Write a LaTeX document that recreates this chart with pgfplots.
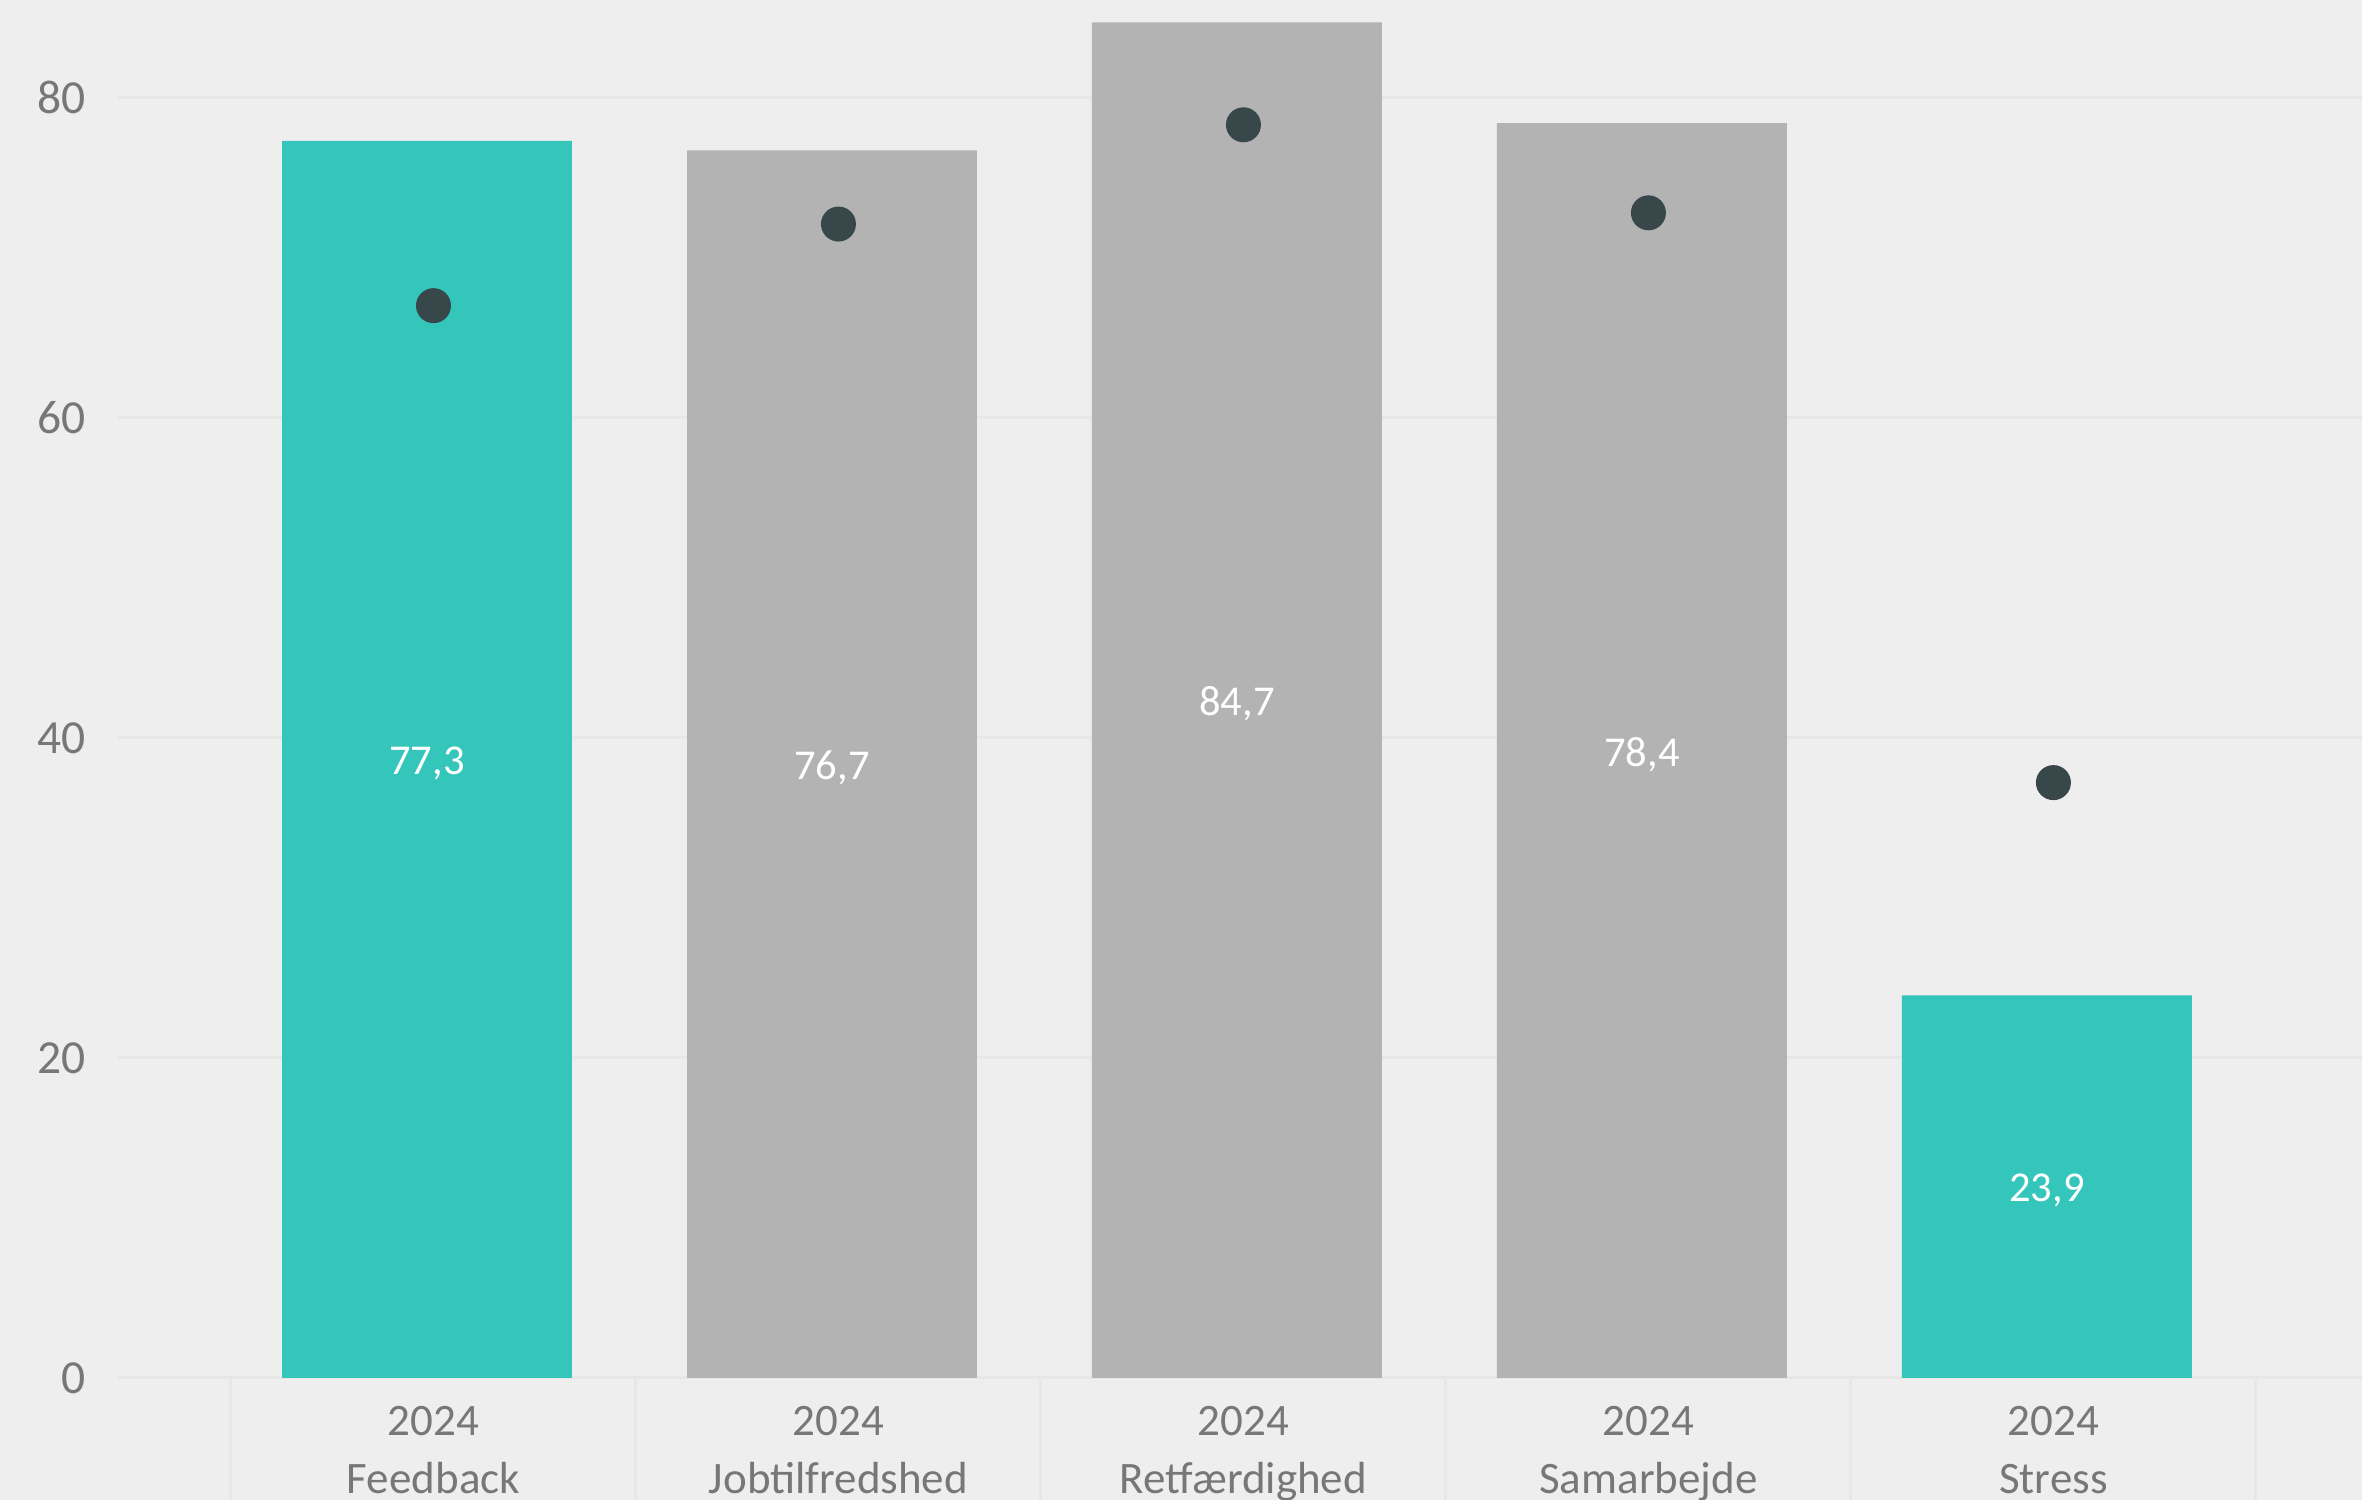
\documentclass[border=0pt]{standalone}
\usepackage{fontspec}
\setmainfont{Carlito}
\usepackage{pgfplots}
\pgfplotsset{compat=1.18}
\definecolor{bg}{HTML}{EEEEEE}
\definecolor{barteal}{HTML}{35C6BB}
\definecolor{bargray}{HTML}{B3B3B3}
\definecolor{dotc}{HTML}{37474A}
\definecolor{gridc}{HTML}{E7E7E7}
\definecolor{tickc}{HTML}{777777}
\begin{document}
\begin{tikzpicture}
\fill[bg, use as bounding box] (-23.6pt,-24.4pt) rectangle (448.8pt,275.6pt);
\begin{axis}[
  at={(0,0)}, anchor=south west,
  scale only axis, width=448.8pt, height=275.6pt,
  xmin=-0.779, xmax=4.762, ymin=0, ymax=86.1,
  axis line style={draw=none},
  major tick length=0pt,
  ytick={0,20,40,60,80},
  ymajorgrids,
  grid style={gridc, line width=0.6pt},
  xtick={0,1,2,3,4},
  xticklabels={{2024\\Feedback},{2024\\Jobtilfredshed},{2024\\Retfærdighed},{2024\\Samarbejde},{2024\\Stress}},
  xticklabel style={align=center, font=\fontsize{9}{11.6}\selectfont, text=tickc, yshift=-2.2pt},
  yticklabel style={font=\fontsize{9.5}{11}\selectfont, text=tickc, xshift=-3pt},
  /pgf/number format/assume math mode=true,
  clip=false,
]
\pgfplotsinvokeforeach{-0.5,0.5,1.5,2.5,3.5,4.5}{
  \draw[gridc, line width=0.6pt] (axis cs:#1,0) -- ++(0pt,-30pt);
}
\addplot[ybar, bar shift=0pt, bar width=0.716, fill=barteal, draw=none]
  coordinates {(-0.016,77.3) (3.984,23.9)};
\addplot[ybar, bar shift=0pt, bar width=0.716, fill=bargray, draw=none]
  coordinates {(0.984,76.7) (1.984,84.7) (2.984,78.4)};
\addplot[only marks, mark=none, nodes near coords, point meta=explicit symbolic,
  nodes near coords style={anchor=center, text=white, yshift=-0.8pt, font=\fontsize{8.5}{10}\selectfont}]
  table[meta=lab] {
x y lab
-0.016 38.65 77,3
0.984 38.35 76,7
1.984 42.35 84,7
2.984 39.2 78,4
3.984 11.95 23,9
};
\addplot[only marks, mark=*, mark size=3.3pt, mark options={fill=dotc, draw=dotc}]
  coordinates {(0,67.0) (1,72.1) (2,78.3) (3,72.8) (4,37.2)};
\end{axis}
\end{tikzpicture}
\end{document}
